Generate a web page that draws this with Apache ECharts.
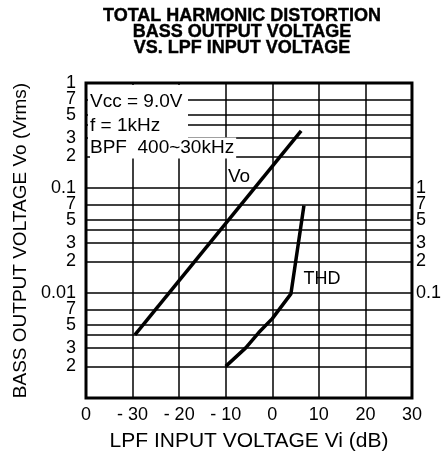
<!DOCTYPE html>
<html><head><meta charset="utf-8">
<script src="https://cdn.jsdelivr.net/npm/echarts@6/dist/echarts.min.js"></script>
<style>html,body{margin:0;padding:0;background:#fff}#c{width:444px;height:458px}</style>
</head><body><div id="c"></div>
<script>
// ---- data ----
const xTicks = [-40, -30, -20, -10, 0, 10, 20, 30];
const xLabels = ['0', '- 30', '- 20', '- 10', '0', '10', '20', '30'];
const voX = [-29.5, 6.2];          // LPF input (dB)
const voY = [0.004, 0.35];         // Vo (Vrms)
const thdX = [-10, -5.7, -2.9, 0, 4, 6.8];
const thdY = [0.02, 0.03, 0.042, 0.057, 0.098, 0.68];   // THD (%)
const leftGrid = [0.001, 0.002, 0.003, 0.004, 0.005, 0.007, 0.01, 0.02, 0.03, 0.04, 0.05, 0.07, 0.1, 0.2, 0.3, 0.4, 0.5, 0.7, 1];
// tick label values (listed so that the first two and last two are not adjacent stacked digits)
const leftLabels = [1, 0.5, 0.7, 0.3, 0.2, 0.1, 0.07, 0.05, 0.03, 0.02, 0.01, 0.007, 0.005, 0.003, 0.002];
const rightLabels = [1, 0.5, 0.7, 0.3, 0.2, 0.1];
const titleLines = ['TOTAL HARMONIC DISTORTION', 'BASS OUTPUT VOLTAGE', 'VS. LPF INPUT VOLTAGE'];
const noteLines = ['Vcc = 9.0V', 'f = 1kHz', 'BPF  400~30kHz'];

const FONT = '"Liberation Sans", Arial, Helvetica, sans-serif';

function logLabel(v) {
  const e = Math.floor(Math.log10(v) + 1e-6);
  const d = Math.round(v / Math.pow(10, e));
  if (d === 1 || d === 10) return e >= 0 || (d === 10 && e === -1) ? '1' : String(+v.toPrecision(1));
  return String(d);
}

const labelCommon = {color: '#000', fontSize: 18, lineHeight: 13, fontFamily: FONT, hideOverlap: false, showMinLabel: true, showMaxLabel: true};

const chart = echarts.init(document.getElementById('c'), null, {renderer: 'canvas'});
chart.setOption({
  animation: false,
  backgroundColor: '#fff',
  grid: {left: 86, top: 83, width: 327, height: 315, show: true, borderColor: '#000', borderWidth: 3, backgroundColor: 'transparent'},
  xAxis: {
    type: 'value', min: -40, max: 30, interval: 10,
    axisLine: {show: false}, axisTick: {show: false},
    splitLine: {show: true, lineStyle: {color: '#000', width: 1.5}},
    axisLabel: {
      color: '#000', fontSize: 18, fontFamily: FONT, margin: 8,
      formatter: v => xLabels[xTicks.indexOf(Math.round(v))] ?? ''
    },
    name: 'LPF INPUT VOLTAGE Vi (dB)', nameLocation: 'middle', nameGap: 33,
    nameTextStyle: {color: '#000', fontSize: 21, fontFamily: FONT}
  },
  yAxis: [{
    type: 'log', logBase: 10, min: 0.001, max: 1,
    axisLine: {show: false},
    axisTick: {show: false, customValues: leftGrid},
    splitLine: {show: true, lineStyle: {color: '#000', width: 1.5}},
    axisLabel: Object.assign({customValues: leftLabels, margin: 10, formatter: v => logLabel(v)}, labelCommon),
    name: 'BASS OUTPUT VOLTAGE Vo (Vrms)', nameLocation: 'middle', nameGap: 49, nameRotate: 90,
    nameTextStyle: {color: '#000', fontSize: 19, fontFamily: FONT}
  }, {
    type: 'log', logBase: 10, min: 0.01, max: 10, position: 'right',
    axisLine: {show: false}, axisTick: {show: false},
    splitLine: {show: false},
    axisLabel: Object.assign({customValues: rightLabels, margin: 4, formatter: v => logLabel(v)}, labelCommon)
  }],
  series: [{
    name: 'Vo', type: 'line', yAxisIndex: 0, symbol: 'none',
    lineStyle: {color: '#000', width: 3.5},
    data: voX.map((x, i) => [x, voY[i]]), z: 5
  }, {
    name: 'THD', type: 'line', yAxisIndex: 1, symbol: 'none',
    lineStyle: {color: '#000', width: 3.5},
    data: thdX.map((x, i) => [x, thdY[i]]), z: 5
  }],
  graphic: [
    {type: 'text', x: 242, y: 8, z: 20, style: {text: titleLines.join('\n'), textAlign: 'center', font: 'bold 18px ' + FONT, lineHeight: 16, fill: '#000', stroke: '#000', lineWidth: 0.4}},
    {type: 'rect', z: 10, shape: {x: 88, y: 85, width: 100, height: 69}, style: {fill: '#fff'}},
    {type: 'text', x: 90, y: 102, z: 11, style: {text: noteLines[0], font: '19px ' + FONT, fill: '#000', textVerticalAlign: 'middle'}},
    {type: 'text', x: 90, y: 126, z: 11, style: {text: noteLines[1], font: '19px ' + FONT, fill: '#000', textVerticalAlign: 'middle'}},
    {type: 'text', x: 90, y: 148, z: 11, style: {text: noteLines[2], font: '19px ' + FONT, fill: '#000', textVerticalAlign: 'middle', backgroundColor: '#fff', padding: [1, 2, 1, 0]}},
    {type: 'text', x: 239, y: 177, z: 11, style: {text: 'Vo', font: '19px ' + FONT, fill: '#000', textAlign: 'center', textVerticalAlign: 'middle'}},
    {type: 'text', x: 322, y: 279, z: 11, style: {text: 'THD', font: '18px ' + FONT, fill: '#000', textAlign: 'center', textVerticalAlign: 'middle'}}
  ]
});
</script></body></html>
